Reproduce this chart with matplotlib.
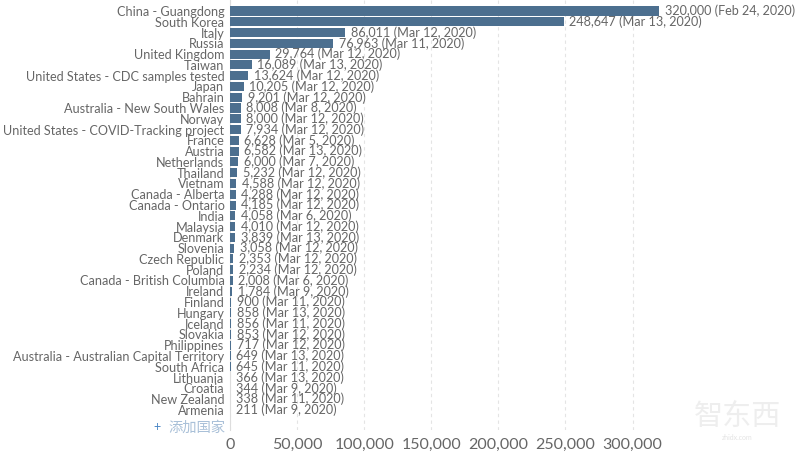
#!/usr/bin/env python3
import matplotlib
matplotlib.use("Agg")
import matplotlib.pyplot as plt

plt.rcParams["font.family"] = ["Lato", "Noto Sans CJK SC", "DejaVu Sans"]

countries = ["China - Guangdong", "South Korea", "Italy", "Russia", "United Kingdom", "Taiwan",
             "United States - CDC samples tested", "Japan", "Bahrain", "Australia - New South Wales",
             "Norway", "United States - COVID-Tracking project", "France", "Austria", "Netherlands",
             "Thailand", "Vietnam", "Canada - Alberta", "Canada - Ontario", "India", "Malaysia",
             "Denmark", "Slovenia", "Czech Republic", "Poland", "Canada - British Columbia", "Ireland",
             "Finland", "Hungary", "Iceland", "Slovakia", "Philippines",
             "Australia - Australian Capital Territory", "South Africa", "Lithuania", "Croatia",
             "New Zealand", "Armenia"]
tests = [320000, 248647, 86011, 76963, 29764, 16089, 13624, 10205, 9201, 8008, 8000, 7934, 6628,
         6582, 6000, 5232, 4588, 4288, 4185, 4058, 4010, 3839, 3058, 2353, 2234, 2008, 1784,
         900, 858, 856, 853, 717, 649, 645, 366, 344, 338, 211]
dates = ["Feb 24, 2020", "Mar 13, 2020", "Mar 12, 2020", "Mar 11, 2020", "Mar 12, 2020", "Mar 13, 2020",
         "Mar 12, 2020", "Mar 12, 2020", "Mar 12, 2020", "Mar 8, 2020", "Mar 12, 2020", "Mar 12, 2020",
         "Mar 5, 2020", "Mar 13, 2020", "Mar 7, 2020", "Mar 12, 2020", "Mar 12, 2020", "Mar 12, 2020",
         "Mar 12, 2020", "Mar 6, 2020", "Mar 12, 2020", "Mar 13, 2020", "Mar 12, 2020", "Mar 12, 2020",
         "Mar 12, 2020", "Mar 6, 2020", "Mar 9, 2020", "Mar 11, 2020", "Mar 13, 2020", "Mar 11, 2020",
         "Mar 12, 2020", "Mar 12, 2020", "Mar 13, 2020", "Mar 11, 2020", "Mar 13, 2020", "Mar 9, 2020",
         "Mar 11, 2020", "Mar 9, 2020"]
xticks = [0, 50000, 100000, 150000, 200000, 250000, 300000]

text_color = "#666666"
bar_color = "#4c6f8f"

fig = plt.figure(figsize=(8, 4.57), dpi=100)
fig.set_facecolor("w")
ax = fig.add_axes([230 / 800, 27 / 457, 570 / 800, 430 / 457])

rows = list(range(len(countries)))
ax.barh(rows, tests, height=0.84, color=bar_color, zorder=4)

for row, value, date in zip(rows, tests, dates):
    ax.annotate(f"{value:,} ({date})", (value, row), xytext=(4, 0), textcoords="offset points",
                va="center", ha="left", fontsize=9.1, color=text_color, zorder=5)

ax.set_xlim(0, 570 / 67.1 * 50000)
ax.set_ylim(38.87, -1.02)

ax.set_yticks(rows)
ax.set_yticklabels(countries, fontsize=9.12, color=text_color)
ax.set_xticks(xticks)
ax.set_xticklabels([f"{t:,}" for t in xticks], fontsize=11.5, color=text_color)
ax.tick_params(axis="y", length=0, pad=4)
ax.tick_params(axis="x", length=0, pad=5.5)

ax.grid(axis="x", color="#e4e4e4", linestyle=(0, (3, 3)), linewidth=0.8, zorder=1)
ax.set_axisbelow(True)
for name in ["top", "right", "bottom"]:
    ax.spines[name].set_visible(False)
ax.spines["left"].set_color("#dddddd")
ax.spines["left"].set_zorder(1)

# add-country button under the list
ax.annotate("添加国家", (0, 38.6), xytext=(-3.5, 0), textcoords="offset points", ha="right", va="center",
            fontsize=10.3, color="#a9c0d8", annotation_clip=False)
ax.annotate("+", (0, 38.6), xytext=(-50, 0), textcoords="offset points", ha="right", va="center",
            fontsize=9, color="#4a86c5", annotation_clip=False)

# watermark
fig.text(737 / 800, 1 - 416 / 457, "智东西", ha="center", va="center", fontsize=21, color="#eeeeee")
fig.text(737 / 800, 1 - 438 / 457, "zhidx.com", ha="center", va="center", fontsize=5, color="#e4e4e4")

fig.savefig("out.png", dpi=100)
